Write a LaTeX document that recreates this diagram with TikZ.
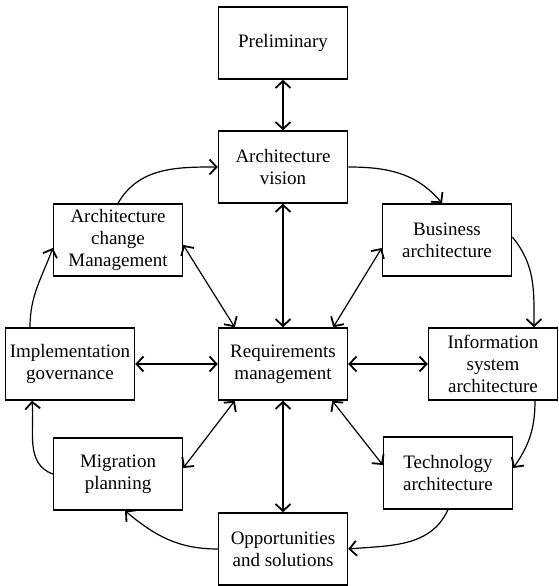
\documentclass[tikz,border=0pt]{standalone}
\usepackage{fontspec}
\setmainfont{Liberation Serif}
\usetikzlibrary{arrows.meta}
\begin{document}
\begin{tikzpicture}[x=1pt,y=1pt,
  box/.style={draw,line width=1.5pt,minimum width=129pt,minimum height=72pt,inner sep=0pt,align=center,font=\fontsize{19}{22}\selectfont},
  conn/.style={line width=1.2pt},
  >={Straight Barb[length=7pt,width=15pt,line width=1.8pt]}]
\useasboundingbox (0,0) rectangle (558,586);
\node[box] (prelim) at (283,543) {Preliminary};
\node[box] (vision) at (283,419) {Architecture\\vision};
\node[box] (bus) at (447,346) {Business\\architecture};
\node[box] (change) at (118,346) {Architecture\\change\\Management};
\node[box] (impl) at (70,222) {Implementation\\governance};
\node[box] (req) at (283,222) {Requirements\\management};
\node[box] (info) at (493,222) {Information\\system\\architecture};
\node[box] (mig) at (118,112) {Migration\\planning};
\node[box] (tech) at (448,113) {Technology\\architecture};
\node[box] (opp) at (283,37) {Opportunities\\and solutions};
% cycle
\draw[conn,->] (vision.east) to[out=0,in=130] ([xshift=-5pt]bus.north);
\draw[conn,->] ([yshift=3pt]bus.east) to[out=-50,in=90] ([xshift=41pt]info.north);
\draw[conn,->] ([xshift=42pt]info.south) to[out=-90,in=55] ([yshift=5pt]tech.east);
\draw[conn,->] (tech.south) to[out=-115,in=5] (opp.east);
\draw[conn,->] (opp.west) to[out=180,in=-40] ([xshift=7pt]mig.south);
\draw[conn,->] (mig.west) to[out=160,in=-85] ([xshift=-38pt]impl.south);
\draw[conn,->] ([xshift=-40pt]impl.north) to[out=90,in=-110] ([yshift=-8pt]change.west);
\draw[conn,->] (change.north) to[out=60,in=180] (vision.west);
% requirements
\draw[conn,<->] (prelim) -- (vision);
\draw[conn,<->] (vision) -- (req);
\draw[conn,<->] (impl) -- (req);
\draw[conn,<->] (req) -- (info);
\draw[conn,<->] (req) -- (opp);
\draw[conn,<->] ([yshift=-5pt]change.east) -- ([xshift=17pt]req.north west);
\draw[conn,<->] ([yshift=-8pt]bus.west) -- ([xshift=-15pt]req.north east);
\draw[conn,<->] ([yshift=6pt]mig.east) -- ([xshift=17pt]req.south west);
\draw[conn,<->] ([xshift=-16pt]req.south east) -- ([yshift=8pt]tech.west);
\end{tikzpicture}
\end{document}
